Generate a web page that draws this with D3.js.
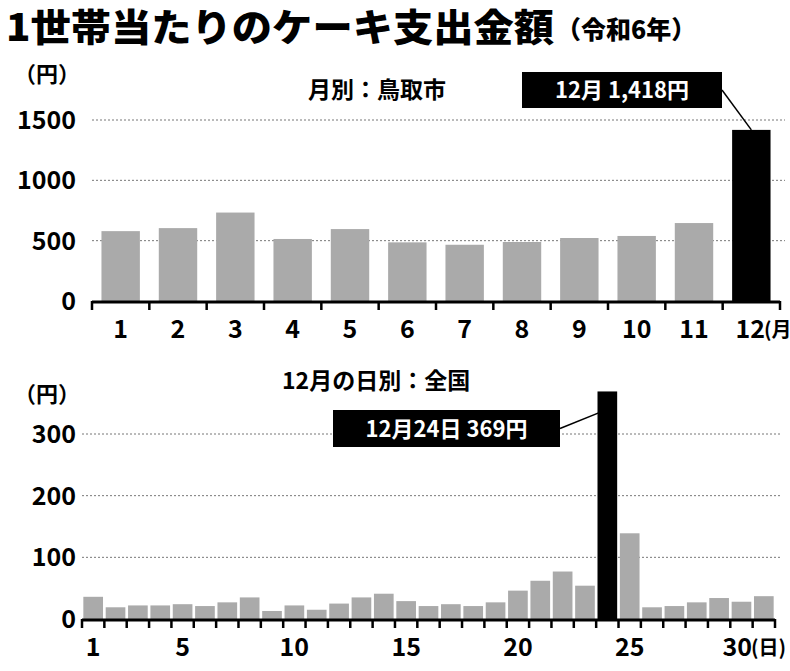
<!DOCTYPE html><html><head><meta charset="utf-8"><script src="https://d3js.org/d3.v7.min.js"></script>
<style>body{margin:0;background:#fff}text{font-family:"Liberation Sans Narrow","Noto Sans CJK JP",sans-serif;font-weight:bold}</style></head><body>
<svg id="c" width="790" height="671"></svg>
<script>
const months=["1","2","3","4","5","6","7","8","9","10","11","12"];
const monthVals=[579,604,733,514,596,486,466,489,522,539,646,1418];
const monthTicks=[0,500,1000,1500];
const days=d3.range(1,32).map(String);
const dayVals=[36,19,22,22,24,21,27,35,13,22,15,25,35,41,29,21,24,21,27,46,62,77,54,369,139,19,21,27,34,28,37];
const dayTicks=[0,100,200,300];
const dayLabels=["1","5","10","15","20","25","30"];
const svg=d3.select("#c");
const jp='"Noto Sans CJK JP",sans-serif';
svg.append("text").attr("x",6).attr("y",41).attr("font-size",38).attr("textLength",548).attr("lengthAdjust","spacingAndGlyphs").style("font-family",jp).style("font-weight",900).text("1世帯当たりのケーキ支出金額");
svg.append("text").attr("x",556).attr("y",39).attr("font-size",25).style("font-family",jp).style("font-weight",900).text("（令和6年）");

function panel(o){
  const x=d3.scaleBand().domain(o.cats).range([o.x0,o.x1]).paddingInner(o.pad).paddingOuter(o.pad/2);
  const y=d3.scaleLinear().domain([0,o.max]).range([o.base,o.top]);
  const g=svg.append("g");
  o.ticks.forEach(t=>{ if(t>0) g.append("line").attr("x1",o.x0).attr("x2",o.x1+5).attr("y1",y(t)).attr("y2",y(t)).attr("stroke","#777").attr("stroke-dasharray","2,2").attr("stroke-width",1);
    g.append("text").attr("x",o.lx).attr("y",y(t)+9).attr("text-anchor","end").attr("font-size",25).text(t);});
  g.selectAll("rect").data(o.vals).join("rect").attr("x",(d,i)=>x(o.cats[i])).attr("width",x.bandwidth()).attr("y",d=>y(d)).attr("height",d=>o.base-y(d)).attr("fill",(d,i)=>i===o.hi?"#000":"#aaa");
  g.append("line").attr("x1",o.x0).attr("x2",o.x1).attr("y1",o.base+1).attr("y2",o.base+1).attr("stroke","#000").attr("stroke-width",3);
  const step=x.step();
  for(let i=0;i<=o.cats.length;i++){const xx=o.x0+i*step;g.append("line").attr("x1",xx).attr("x2",xx).attr("y1",o.base).attr("y2",o.base+9).attr("stroke","#000").attr("stroke-width",2.5);}
  o.cats.forEach((c,i)=>{ if(o.labels.includes(c)) g.append("text").attr("x",x(c)+x.bandwidth()/2).attr("y",o.base+37).attr("text-anchor","middle").attr("font-size",25).text(c);});
  return {x,y};
}
const a=panel({cats:months,vals:monthVals,ticks:monthTicks,max:1500,x0:92,x1:780,base:301,top:120,pad:0.33,lx:76,hi:11,labels:months.slice(0,11)});
svg.append("text").attr("x",765).attr("y",338).attr("text-anchor","end").attr("font-size",25).text("12");
svg.append("text").attr("x",764).attr("y",337).attr("font-size",20).style("font-family",jp).text("(月)");
const b=panel({cats:days,vals:dayVals,ticks:dayTicks,max:300,x0:82,x1:775,base:619,top:434,pad:0.12,lx:76,hi:23,labels:dayLabels.slice(0,6)});
svg.append("text").attr("x",752).attr("y",656).attr("text-anchor","end").attr("font-size",25).text("30");
svg.append("text").attr("x",751).attr("y",655).attr("font-size",20).style("font-family",jp).text("(日)");
[[14,82],[14,402]].forEach(p=>svg.append("text").attr("x",p[0]).attr("y",p[1]).attr("font-size",22).style("font-family",jp).text("（円）"));
svg.append("text").attr("x",308).attr("y",98).attr("font-size",23).style("font-family",jp).text("月別：鳥取市");
svg.append("text").attr("x",282).attr("y",389).attr("font-size",23).style("font-family",jp).text("12月の日別：全国");
function callout(bx,by,w,h,txt,lx2,ly2){
  svg.append("line").attr("x1",bx+w).attr("y1",by+h/2).attr("x2",lx2).attr("y2",ly2).attr("stroke","#000").attr("stroke-width",1.5);
  svg.append("rect").attr("x",bx).attr("y",by).attr("width",w).attr("height",h).attr("fill","#000");
  svg.append("text").attr("x",bx+w/2).attr("y",by+h/2+8).attr("text-anchor","middle").attr("fill","#fff").attr("font-size",22).style("font-family",jp).text(txt);
}
callout(522,72,200,36,"12月 1,418円",a.x("12")+a.x.bandwidth()/2,a.y(1418));
callout(333,410,227,37,"12月24日 369円",b.x("24")+b.x.bandwidth()/2,b.y(340));
</script></body></html>
